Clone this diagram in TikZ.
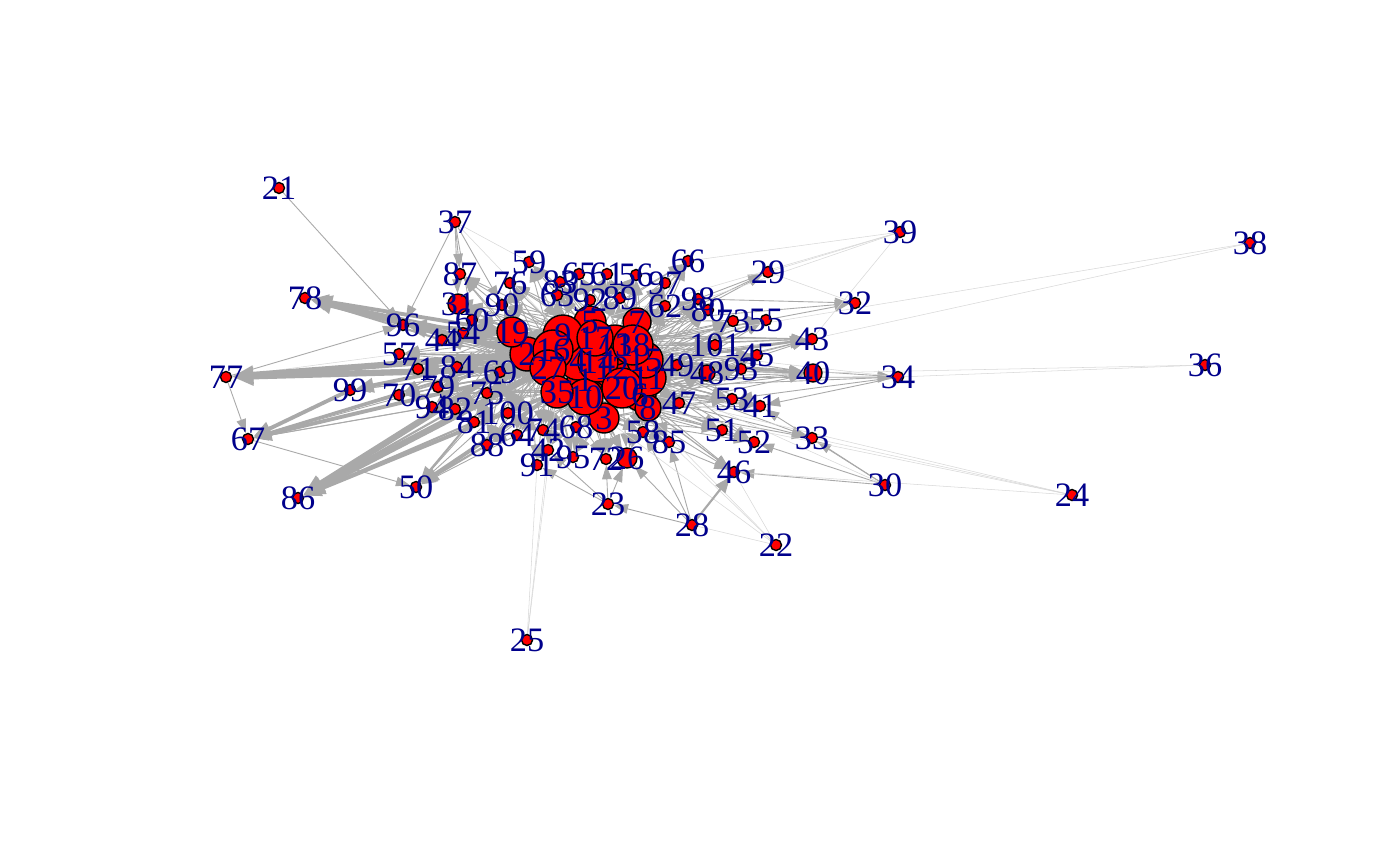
\documentclass[tikz,border=0pt]{standalone}
\usepackage{fontspec}
\setmainfont{Liberation Serif}
\usetikzlibrary{arrows.meta}
\definecolor{eg}{RGB}{169,169,169}
\definecolor{lab}{RGB}{0,0,139}
\pgfdeclarelayer{bg}
\pgfdeclarelayer{paper}
\pgfsetlayers{paper,bg,main}
\begin{document}
\begin{tikzpicture}[x=0.02cm,y=-0.02cm,
  vtx/.style={circle,draw=black,line width=0.8pt,fill=red,inner sep=0pt},
  lbl/.style={text=lab,font=\fontsize{19.5}{19.5}\selectfont,inner sep=0pt},
  e/.style={draw=eg,line width=0.5pt,-{Triangle[length=8pt,width=5.5pt]}},
  ef/.style={draw=eg!45,line width=0.3pt},
  em/.style={draw=eg,line width=1.2pt,-{Triangle[length=9pt,width=7pt]}},
  et/.style={draw=eg,line width=2.2pt,-{Triangle[length=10pt,width=8pt]}},
  ex/.style={draw=eg,line width=3.6pt,-{Triangle[length=12pt,width=10pt]}}]
\begin{pgfonlayer}{paper}
\fill[white] (0,0) rectangle (1400,866);
\end{pgfonlayer}
\useasboundingbox (0,0) rectangle (1400,866);
% hidden small node
\node[vtx,minimum size=0.22cm] (n92) at (590,300) {};
% hubs
\foreach \n/\x/\y/\r in {1/585/380/18,2/527/354/17,3/604/418/15,4/578/360/20,
  5/590/322/16,6/640/395/16,7/637/322/14,8/648/408/13,9/563/335/20,10/585/397/18,
  11/648/378/18,12/612/368/20,13/615/345/20,14/598/362/20,15/645/360/18,
  16/553/350/20,17/595/338/18,18/633/345/20,19/512/332/15,20/622/388/20,
  27/548/368/18,35/557/392/16}
  {\node[vtx,minimum size={\r*0.04cm}] (n\n) at (\x,\y) {};}
% medium nodes
\foreach \n/\x/\y/\r in {31/458/304/10,26/627/458/10,40/813/373/9,48/707/373/8}
  {\node[vtx,minimum size={\r*0.04cm}] (n\n) at (\x,\y) {};}
% small nodes
\foreach \n/\x/\y in {21/279/188,37/455/222,39/900/232,38/1250/243,59/529/262,
  66/688/261,29/768/272,87/460/274,76/510/283,83/560/282,65/579/274,61/607/274,
  56/636/275,97/665/283,63/557/295,89/620/298,62/665/306,98/698/299,80/708/310,
  73/733/321,55/766/320,32/855/303,78/305/298,90/502/305,60/472/320,54/463/333,
  44/442/340,96/403/325,43/812/339,101/715/345,45/757/355,57/399/354,71/418/369,
  84/457/367,69/500/372,49/677/365,93/741/369,34/898/377,36/1205/365,77/226/377,
  99/350/390,70/399/395,79/438/387,75/487/393,94/432/407,82/455/409,81/474/422,
  100/508/413,53/732/399,41/760/406,47/679/403,67/248/439,88/487/445,64/517/435,
  74/543/430,68/576/427,58/643/432,85/669/442,51/722/430,52/754/442,33/812/438,
  42/548/450,95/573/457,72/606/459,46/734/472,30/885/485,24/1072/495,91/537/465,
  23/608/504,28/692/525,22/776/545,86/298/498,50/416/487,25/527/640}
  {\node[vtx,minimum size=0.22cm] (n\n) at (\x,\y) {};}
% labels
\foreach \n in {92,1,2,3,4,5,6,7,8,9,10,11,12,13,14,15,16,17,18,19,20,27,35,
  31,26,40,48,21,37,39,38,59,66,29,87,76,83,65,61,56,97,63,89,62,98,80,73,55,32,
  78,90,60,54,44,96,43,101,45,57,71,84,69,49,93,34,36,77,99,70,79,75,94,82,81,
  100,53,41,47,67,88,64,74,68,58,85,51,52,33,42,95,72,46,30,24,91,23,28,22,86,50,25}
  {\node[lbl] (l\n) at (n\n) {\n};}
% edges
\begin{pgfonlayer}{bg}
\foreach \t/\ss in {87/{19,9,16,37},76/{9,16,19,5,17},59/{9,5,17,16},83/{9,5,16},
  65/{5,17,9},61/{5,17,13},56/{17,13,18,7},97/{7,18,13},66/{7,18,13,17,5},
  63/{9,16},89/{17,13,7},62/{7,18,15},98/{7,18,15,11},80/{18,15,11,7},
  73/{18,15,11,20},55/{18,15,11,7,12},29/{7,18,13},32/{18,7,98},
  43/{18,15,11,12,20,6,19,16},101/{18,15,11,12,9},45/{15,11,20,6},49/{11,15,20},
  48/{11,15,20,6,8,27},93/{11,15,6,8,16},40/{11,15,20,6,8,12,2,9},34/{11,15,20},
  53/{8,6,20,11,34,35},41/{8,6,11,34,30,27},47/{8,6,20},51/{8,6,3},
  52/{8,6,20,3,30},33/{6,8,11,30},46/{8,6,20,3,1,30},58/{3,8,20,28},
  85/{3,8,6,28},26/{3,10,20,28,23},72/{3,10,23},95/{3,10,35},
  42/{35,10,27,23},91/{35,27,2,23},68/{3,10,35},74/{35,27,10},
  64/{27,35,2},88/{2,27,35},100/{2,27,35,12},81/{2,27,20},82/{2,27,19},
  94/{2,27},75/{2,27,19,14},69/{2,19,16},79/{2,19,27,6},84/{2,19,16,12},
  71/{2,19,11},70/{2,27,20},57/{19,2,15},44/{19,2,16,13},54/{19,2,9},
  60/{19,9,16,37},31/{19,9,16,37},90/{19,9,16,37},96/{9,16,18,37,21,77},
  99/{27,14},67/{79,94,77,1},50/{64,67,81,27},23/{28},
  2/{71,84,96,57},19/{54,44,60},9/{69,75},16/{100,82},27/{79,70},
  87/{2,17},76/{13,27},59/{18,13},83/{17,13},65/{16,13,18},61/{9,18,7},
  56/{5,9,15},97/{17,15,11},66/{9,15},63/{5,17,2},89/{5,18,9},62/{13,17,11},
  98/{13,12,20},80/{13,12,20},73/{13,12,6},55/{13,20,6},101/{13,20,6,14},
  45/{18,12,8,14},49/{18,12,6,8},93/{18,12,20},48/{18,12,14},53/{15,12,3},
  41/{15,20,12},47/{11,12,3,10},51/{20,11,10},52/{11,15,10},58/{6,10,12},
  85/{20,11,10},26/{6,8,1},72/{20,35,1},95/{27,1,20},68/{27,20,1},74/{2,1,3},
  64/{10,16,19},88/{19,16,10},100/{16,19,9},81/{19,16,35},82/{16,35,9},
  94/{19,16,35},75/{16,9,35},69/{27,9,17,4},79/{16,9,35},84/{27,9,4},
  71/{16,27,9},70/{19,16,35},57/{16,27,9},44/{9,27,17},54/{16,17,27},
  60/{2,17,5},31/{2,5,17},90/{2,5,17,27},96/{27,13,15},43/{9,17,14},
  40/{16,27,14,4},19/{9,16,2},18/{9,16,19},15/{2,27,35},20/{19,2,9}}
  {\foreach \s in \ss {\draw[e] (n\s) -- (n\t);}}
\foreach \a/\b in {39/66,39/5,39/43,38/43,38/18,36/40,36/34,24/20,22/3,25/35,
  25/42,25/91,37/59,37/9,30/11,34/13,77/57,32/29,39/7,39/29,24/8,24/33,24/46,
  22/20,22/46,22/85,22/28}
  {\draw[ef] (n\a) -- (n\b);}
\foreach \s/\t in {44/78,16/78,70/67,88/50,2/50,28/46,12/43,82/86,81/86,2/67}
  {\draw[em] (n\s) -- (n\t);}
\foreach \s/\t in {2/99,99/67,19/96,2/96,35/50,19/78,27/67,35/86}
  {\draw[et] (n\s) -- (n\t);}
\foreach \s/\t in {2/78,2/77,27/77,2/86,27/86}
  {\draw[ex] (n\s) -- (n\t);}
\end{pgfonlayer}
\end{tikzpicture}
\end{document}
